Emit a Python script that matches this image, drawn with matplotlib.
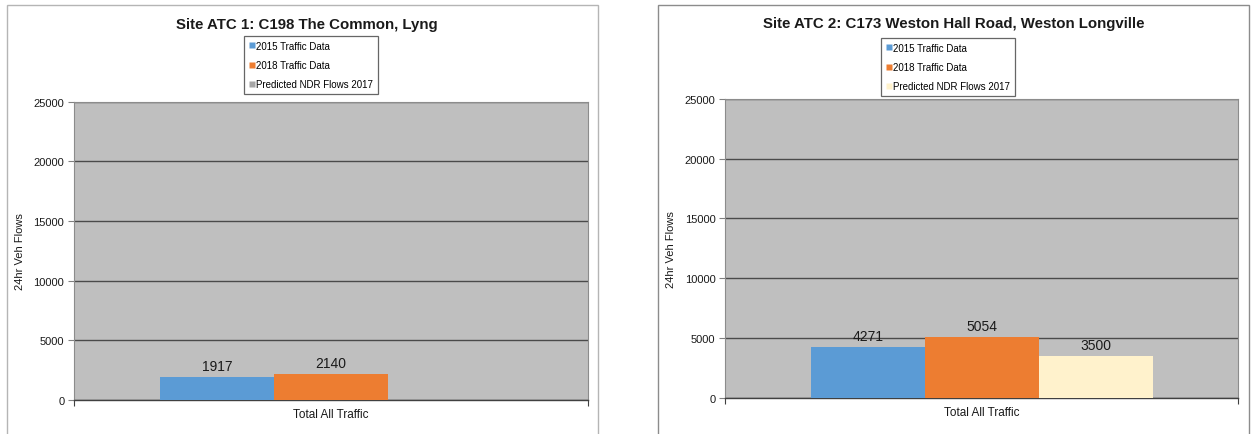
import matplotlib
matplotlib.use("Agg")
import matplotlib.pyplot as plt
from matplotlib.lines import Line2D
from matplotlib.patches import Rectangle

plt.rcParams['font.family'] = ['Liberation Sans', 'DejaVu Sans']

# ---- data ----
categories = ["Total All Traffic"]
series_names = ["2015 Traffic Data", "2018 Traffic Data", "Predicted NDR Flows 2017"]
titles = ["Site ATC 1: C198 The Common, Lyng",
          "Site ATC 2: C173 Weston Hall Road, Weston Longville"]
site1_values = [1917, 2140, None]
site2_values = [4271, 5054, 3500]
yticks = [0, 5000, 10000, 15000, 20000, 25000]
ylabel = "24hr Veh Flows"

site1_colors = ["#5B9BD5", "#ED7D31", "#A5A5A5"]
site2_colors = ["#5B9BD5", "#ED7D31", "#FFF2CC"]

W, H = 1251, 435
fig = plt.figure(figsize=(W / 100, H / 100), dpi=100)
fig.patch.set_facecolor("white")

# chart-area borders
fig.add_artist(Rectangle((7 / W, -0.05), (598 - 7) / W, 1.05 - 6 / H,
                         transform=fig.transFigure, fill=False,
                         edgecolor="#B5B5B5", linewidth=1.0))
fig.add_artist(Rectangle((658 / W, -0.05), (1249 - 658) / W, 1.05 - 6 / H,
                         transform=fig.transFigure, fill=False,
                         edgecolor="#8C8C8C", linewidth=1.0))

panels = [
    dict(values=site1_values, colors=site1_colors, title=titles[0],
         ax_px=(74, 102.7, 588, 401), title_xy=(307, 25), leg_xy=(311, 37)),
    dict(values=site2_values, colors=site2_colors, title=titles[1],
         ax_px=(725.3, 100, 1238.3, 398.7), title_xy=(953.5, 24), leg_xy=(948, 39)),
]

bar_w = 0.222
offsets = [-bar_w, 0.0, bar_w]

for p in panels:
    x0, y0, x1, y1 = p["ax_px"]
    ax = fig.add_axes([x0 / W, 1 - y1 / H, (x1 - x0) / W, (y1 - y0) / H])
    ax.set_facecolor("#BFBFBF")
    ax.set_xlim(-0.5, 0.5)
    ax.set_ylim(0, 25000)
    ax.set_yticks(yticks)
    ax.set_yticklabels([str(t) for t in yticks])
    ax.yaxis.grid(True, color="#4A4A4A", linewidth=1.0)
    ax.set_axisbelow(True)

    for i, (v, c) in enumerate(zip(p["values"], p["colors"])):
        if v is None:
            continue
        xpos = 0 + offsets[i]
        ax.bar(xpos, v, width=bar_w, color=c, edgecolor="none", zorder=3)
        ax.annotate(str(v), (xpos, v), xytext=(0, 3), textcoords="offset points",
                    ha="center", va="bottom", fontsize=10, color="#1A1A1A", zorder=4)

    ax.set_xticks([0])
    ax.set_xticklabels(categories)
    ax.tick_params(axis="x", length=0, labelsize=8.5, pad=6, colors="#1A1A1A")
    ax.set_xticks([-0.5, 0.5], minor=True)
    ax.tick_params(axis="x", which="minor", length=4, width=0.8, color="#404040")
    ax.tick_params(axis="y", length=4, width=0.8, color="#808080",
                   labelsize=8, pad=3, labelcolor="#1A1A1A")

    for s in ["top", "right", "left"]:
        ax.spines[s].set_color("#8C8C8C")
        ax.spines[s].set_linewidth(0.8)
    ax.spines["bottom"].set_color("#404040")
    ax.spines["bottom"].set_linewidth(1.0)

    ax.set_ylabel(ylabel, fontsize=8, color="#1A1A1A")
    ax.yaxis.set_label_coords(-0.096, 0.5)

    tx, ty = p["title_xy"]
    fig.text(tx / W, 1 - ty / H, p["title"], ha="center", va="center",
             fontsize=10.8, fontweight="bold", color="#1A1A1A")

    handles = [Line2D([], [], marker="s", linestyle="none", markersize=4,
                      markerfacecolor=c, markeredgecolor="none") for c in p["colors"]]
    lx, ly = p["leg_xy"]
    leg = fig.legend(handles, series_names, loc="upper center",
                     bbox_to_anchor=(lx / W, 1 - ly / H),
                     bbox_transform=fig.transFigure,
                     fontsize=7, frameon=True, fancybox=False,
                     handlelength=0.6, handletextpad=0.2, labelspacing=0.95,
                     borderpad=0.5, borderaxespad=0)
    leg.get_frame().set_edgecolor("#404040")
    leg.get_frame().set_linewidth(0.9)

fig.savefig("out.png", dpi=100, facecolor="white")
